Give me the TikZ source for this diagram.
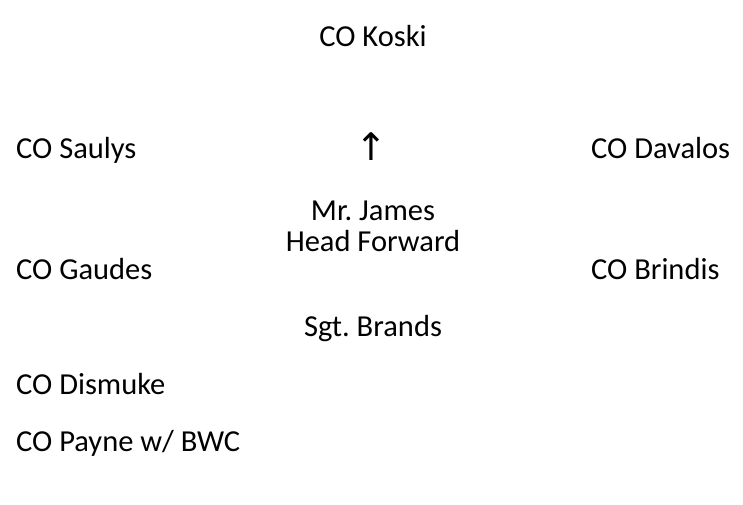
\documentclass[tikz,border=0pt]{standalone}
\usepackage{fontspec}
\setmainfont{Carlito}
\newfontfamily\symbfont{DejaVu Sans}
\usetikzlibrary{positioning}

\begin{document}
\frenchspacing
\begin{tikzpicture}[
    x=1pt, y=1pt,
    post/.style={
        inner sep=0pt,
        font=\fontsize{30.5}{31}\selectfont
    },
    leftpost/.style={post, anchor=base west},
    midpost/.style={post, anchor=base, align=center}
]
    \useasboundingbox (0,0) rectangle (743,504);

    % Posts
    \node [midpost] (koski) at (373,457) {CO Koski};

    \node [leftpost] (saulys) at (16,345) {CO Saulys};
    \node [post, anchor=base, font=\symbfont\fontsize{38}{38}\selectfont] (forward) at (371,343) {↑};
    \node [leftpost] (davalos) at (591,345) {CO Davalos};

    \node [midpost] (james) at (373,253) {Mr. James\\Head Forward};

    \node [leftpost] (gaudes) at (16,225) {CO Gaudes};
    \node [leftpost] (brindis) at (591,225) {CO Brindis};

    \node [midpost] (brands) at (373,168) {Sgt. Brands};

    \node [leftpost] (dismuke) at (16,110) {CO Dismuke};
    \node [leftpost] (payne) at (16,53) {CO Payne w/ BWC};

\end{tikzpicture}
\end{document}
